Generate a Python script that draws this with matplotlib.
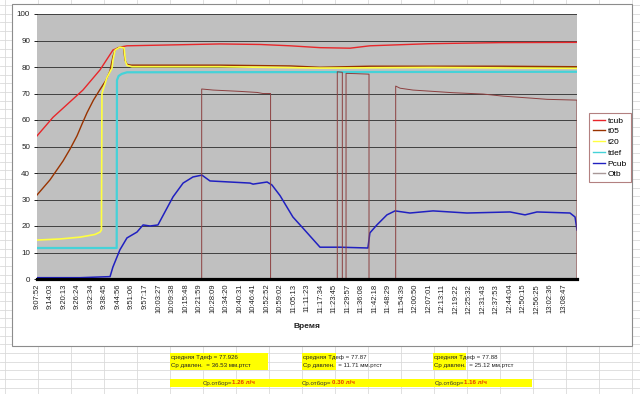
import matplotlib.pyplot as plt
from matplotlib.patches import Rectangle
from matplotlib.lines import Line2D

plt.rcParams['font.family'] = ['Liberation Sans', 'DejaVu Sans']

# category labels of the time axis
tick_labels = ["9:07:52", "9:14:03", "9:20:13", "9:26:24", "9:32:34", "9:38:45", "9:44:56",
               "9:51:06", "9:57:17", "10:03:27", "10:09:38", "10:15:48", "10:21:59", "10:28:09",
               "10:34:20", "10:40:31", "10:46:41", "10:52:52", "10:59:02", "11:05:13", "11:11:23",
               "11:17:34", "11:23:45", "11:29:57", "11:36:08", "11:42:18", "11:48:29", "11:54:39",
               "12:00:50", "12:07:01", "12:13:11", "12:19:22", "12:25:32", "12:31:43", "12:37:53",
               "12:44:04", "12:50:15", "12:56:25", "13:02:36", "13:08:47"]
t_end = "13:14:46"

tcub_t = ["9:07:52", "9:15:10", "9:28:52", "9:36:40", "9:42:36", "9:45:48", "9:49:00", "10:31:34",
          "10:49:52", "11:03:34", "11:17:16", "11:30:58", "11:40:04", "12:07:34", "12:39:34", "13:14:46"]
tcub_v = [54, 61, 71.3, 78.9, 86.4, 87.5, 88, 88.7, 88.5, 88, 87.3, 87.1, 88, 88.8, 89.2, 89.3]

t05_t = ["9:07:52", "9:13:48", "9:19:45", "9:22:57", "9:26:09", "9:28:28", "9:30:46", "9:33:40",
         "9:36:40", "9:39:24", "9:41:14", "9:42:36", "9:43:34", "9:44:56", "9:46:46", "9:47:27",
         "9:48:08", "9:49:03", "9:50:52", "10:31:34", "11:03:34", "11:17:16", "11:40:04",
         "12:39:34", "13:14:46"]
t05_v = [31.7, 37.4, 44.5, 49, 54, 58.5, 62.8, 67.5, 71.5, 75, 78.5, 84, 86.4, 87.3, 87.5, 87.2,
         82.5, 81, 80.7, 80.7, 80.4, 79.9, 80.3, 80.3, 80.1]

t20_t = ["9:07:52", "9:18:22", "9:27:34", "9:34:22", "9:36:40", "9:37:20", "9:37:34", "9:38:29",
         "9:39:52", "9:42:10", "9:42:36", "9:43:34", "9:45:46", "9:47:40", "9:48:21", "9:49:03",
         "9:51:16", "10:31:34", "11:17:16", "12:07:34", "13:14:46"]
t20_v = [14.7, 15.1, 15.8, 16.8, 17.7, 18.5, 70, 72.5, 76, 79.6, 82.6, 86.4, 87.5, 87.2, 82,
         80.6, 80.1, 80.1, 79.6, 79.8, 79.5]

tdef_t = ["9:07:52", "9:44:18", "9:44:26", "9:45:10", "9:46:36", "9:49:00", "13:14:46"]
tdef_v = [11.7, 11.7, 75, 76.6, 77.4, 78, 78.2]

pcub_t = ["9:07:52", "9:27:34", "9:41:16", "9:42:34", "9:45:46", "9:49:00", "9:53:34", "9:56:22",
          "9:59:34", "10:03:10", "10:10:04", "10:14:40", "10:19:10", "10:23:16", "10:26:58",
          "10:36:04", "10:45:16", "10:46:40", "10:53:04", "10:55:16", "10:58:58", "11:04:52",
          "11:09:28", "11:17:16", "11:26:22", "11:39:10", "11:40:04", "11:43:16", "11:47:52",
          "11:51:34", "11:58:22", "12:08:58", "12:24:28", "12:44:10", "12:51:00", "12:56:28",
          "13:11:34", "13:13:52", "13:14:46"]
pcub_v = [0.5, 0.5, 0.9, 4.5, 11, 15.5, 17.7, 20.4, 20, 20.4, 31, 36.2, 38.5, 39.2, 37, 36.6,
          36.2, 35.8, 36.6, 35.5, 31.5, 23.4, 19.2, 12, 12, 11.7, 17.4, 20.4, 24.2, 25.7, 24.9,
          25.7, 24.9, 25.3, 24.2, 25.3, 24.9, 23.4, 18.5]

otb_t = ["9:07:52", "10:23:10", "10:23:10", "10:28:22", "10:40:40", "10:48:28", "10:51:10",
         "10:54:40", "10:54:40", "11:25:10", "11:25:10", "11:27:28", "11:27:28", "11:29:10",
         "11:29:10", "11:33:16", "11:39:40", "11:39:40", "11:51:52", "11:51:52", "11:53:52",
         "11:59:46", "12:10:46", "12:18:04", "12:31:46", "12:40:58", "12:54:40", "13:01:04",
         "13:14:46", "13:14:46"]
otb_v = [0, 0, 71.7, 71.3, 70.8, 70.4, 70, 70, 0, 0, 78.2, 78, 0, 0, 77.6, 77.5, 77.3, 0, 0,
         72.8, 72, 71.3, 70.7, 70.3, 69.8, 69, 68.2, 67.8, 67.5, 0]

notes_tdef = ["средняя Тдеф = 77.926", "средняя Тдеф = 77.87", "средняя Тдеф = 77.88"]
notes_p = ["Ср давлен.  = 36.53 мм.ртст", "Ср давлен.  = 11.71 мм.ртст", "Ср давлен.  = 25.12 мм.ртст"]
notes_otb = ["1.26 л/ч", "0.30 л/ч", "1.16 л/ч"]


def sec(s):
    h, m, x = s.split(':')
    return int(h) * 3600 + int(m) * 60 + int(x)


W, H = 640, 394


def fx(px):
    return px / W


def fy(py):
    return 1 - py / H


fig = plt.figure(figsize=(6.4, 3.94), dpi=100)

# spreadsheet grid behind the chart
for k in range(20):
    x = 5 + 33 * k
    fig.add_artist(Line2D([fx(x), fx(x)], [0, 1], color='#dadada', lw=0.6, zorder=-3))
for k in range(-42, 6):
    y = 353 + 8.7 * k
    fig.add_artist(Line2D([0, 1], [fy(y), fy(y)], color='#dadada', lw=0.6, zorder=-3))

# chart area
fig.add_artist(Rectangle((fx(12), fy(346)), 620 / W, 342 / H, transform=fig.transFigure,
                         facecolor='white', edgecolor='#8c8c8c', lw=0.8, zorder=-1))

ax = fig.add_axes([fx(37), fy(279), 540 / W, 265 / H])
ax.set_facecolor('#c0c0c0')

ax.plot([sec(t) for t in tcub_t], tcub_v, color='#e8262a', lw=1.0, label='tcub')
ax.plot([sec(t) for t in t05_t], t05_v, color='#993300', lw=1.0, label='t05')
ax.plot([sec(t) for t in t20_t], t20_v, color='#ffff40', lw=1.2, label='t20')
ax.plot([sec(t) for t in tdef_t], tdef_v, color='#45d2d8', lw=1.6, label='tdef')
ax.plot([sec(t) for t in pcub_t], pcub_v, color='#2020c0', lw=1.1, label='Pcub')
ax.plot([sec(t) for t in otb_t], otb_v, color='#8c4040', lw=0.7, label='Otb')

ax.set_xlim(sec(tick_labels[0]), sec(t_end))
ax.set_ylim(0, 100)
ax.set_yticks(range(0, 101, 10))
ax.yaxis.grid(True, color='#404040', lw=0.7)
ax.set_axisbelow(True)
ax.set_xticks([sec(t) for t in tick_labels])
ax.set_xticklabels(tick_labels, rotation=90, fontsize=5.5, color='#222222')
ax.tick_params(axis='x', length=0, pad=3.5)
ax.tick_params(axis='y', length=2.5, width=0.6, pad=2.5, labelsize=5.8, labelcolor='#222222')
for side in ['left', 'top', 'right']:
    ax.spines[side].set_visible(False)
ax.spines['bottom'].set_color('black')
ax.spines['bottom'].set_linewidth(2.3)

fig.text(fx(307), fy(327), 'Время', ha='center', va='center', fontsize=6, fontweight='bold',
         color='#222222')

leg = fig.legend(loc='upper left', bbox_to_anchor=(fx(589), fy(113)), fontsize=6, frameon=True,
                 fancybox=False, edgecolor='#a06060', handlelength=1.5, handletextpad=0.3,
                 labelspacing=0.35, borderpad=0.45, borderaxespad=0)
leg.get_frame().set_linewidth(0.8)
for line in leg.get_lines():
    line.set_linewidth(1.0)
leg.get_lines()[-1].set_color('#a89898')

# yellow cells under the chart
for x0, x1 in [(170, 268), (302, 336), (433, 466)]:
    fig.add_artist(Rectangle((fx(x0), fy(370)), (x1 - x0) / W, 17 / H, transform=fig.transFigure,
                             facecolor='#ffff00', edgecolor='none', zorder=-0.5))
fig.add_artist(Rectangle((fx(170), fy(387)), 362 / W, 8.5 / H, transform=fig.transFigure,
                         facecolor='#ffff00', edgecolor='none', zorder=-0.5))

for x, a, b in zip([171, 303, 434], notes_tdef, notes_p):
    fig.text(fx(x), fy(357.5), a, fontsize=4.4, va='center', color='#222222')
    fig.text(fx(x), fy(366), b, fontsize=4.4, va='center', color='#222222')

for x, v in zip([203, 302, 435], notes_otb):
    t1 = fig.text(fx(x), fy(383), 'Ср.отбор=', fontsize=4.4, va='center', color='#333333')
    fig.add_artist(plt.Annotation(v, xy=(1, 0.5), xycoords=t1, va='center', ha='left',
                                  fontsize=4.4, color='#e63c00', fontweight='bold'))

fig.savefig('out.png', dpi=100)
